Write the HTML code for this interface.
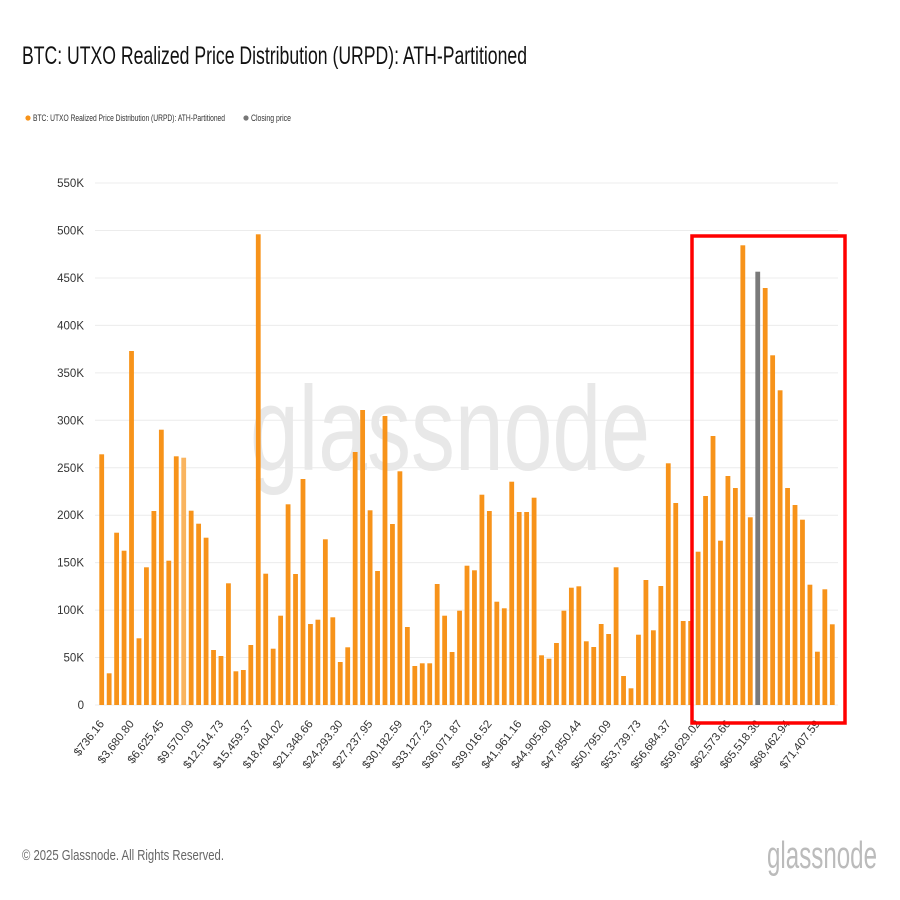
<!DOCTYPE html>
<html><head><meta charset="utf-8">
<style>html,body{margin:0;padding:0;background:#fff;}svg{display:block;font-family:"Liberation Sans",sans-serif;}</style>
</head><body>
<svg id="c" width="900" height="900" viewBox="0 0 900 900" xmlns="http://www.w3.org/2000/svg">
<rect width="900" height="900" fill="#fff"/>
<text x="22" y="64" font-size="25" fill="#111" textLength="505" lengthAdjust="spacingAndGlyphs">BTC: UTXO Realized Price Distribution (URPD): ATH-Partitioned</text>
<circle cx="28" cy="118" r="2.6" fill="#f7931a"/>
<text x="33" y="121" font-size="9" fill="#333" textLength="192" lengthAdjust="spacingAndGlyphs">BTC: UTXO Realized Price Distribution (URPD): ATH-Partitioned</text>
<circle cx="246" cy="118" r="2.6" fill="#777"/>
<text x="251" y="121" font-size="9" fill="#333" textLength="40" lengthAdjust="spacingAndGlyphs">Closing price</text>
<g id="grid"></g>
<text x="450" y="470" font-size="120" fill="#e8e8e8" text-anchor="middle" textLength="400" lengthAdjust="spacingAndGlyphs">glassnode</text>
<g id="bars"></g>
<g id="labels"></g>
<rect x="692" y="236" width="153" height="487" fill="none" stroke="#f00" stroke-width="3.5"/>
<text x="22" y="860" font-size="15" fill="#666" textLength="202" lengthAdjust="spacingAndGlyphs">© 2025 Glassnode. All Rights Reserved.</text>
<text x="767" y="868" font-size="38" fill="#bbb" textLength="110" lengthAdjust="spacingAndGlyphs">glassnode</text>
</svg>
<script>
var ns="http://www.w3.org/2000/svg";
function el(t,a,p,txt){var e=document.createElementNS(ns,t);for(var k in a)e.setAttribute(k,a[k]);if(txt!=null)e.textContent=txt;document.getElementById(p).appendChild(e);return e;}
var y0=705,step=47.45;
for(var i=0;i<=11;i++){var y=y0-i*step;
el("line",{x1:95,x2:838,y1:y,y2:y,stroke:"#ececec","stroke-width":1},"grid");
el("text",{x:84,y:y+4,"font-size":11.5,fill:"#333","text-anchor":"end"},"grid",i==0?"0":(i*50)+"K");}
var tops=[454.3,673.3,532.7,550.7,351,638.3,567.3,511,429.7,560.7,456.3,457.7,510.7,523.7,537.7,650,656,583.3,671.3,670,645,234.3,573.7,648.7,615.7,504.3,574,479,624,619.7,539.3,617.3,662,647.3,452,410,510.3,571,416,524,471.3,627,666,663.3,663.3,584,615.7,652,610.7,565.7,570.3,494.7,511,601.7,608.3,481.7,512,512,497.7,655.3,658.7,643,610.7,587.7,586.3,641.3,647,624,634,567.3,676,688.3,634.7,580,630.3,586,463.3,503,621,621,551.7,496,436,540.7,476,488,245.3,517.3,271.7,288,355.3,390.3,488,505,519.7,584.7,651.7,589.3,624.3];
for(var i=0;i<tops.length;i++){var cx=101.7+i*7.455;
var col=i==88?"#7a7a7a":(i==11?"#f9b45f":"#f7931a");
el("rect",{x:cx-2.4,y:tops[i],width:4.8,height:y0-tops[i],fill:col},"bars");}
var labs=["$736.16","$3,680.80","$6,625.45","$9,570.09","$12,514.73","$15,459.37","$18,404.02","$21,348.66","$24,293.30","$27,237.95","$30,182.59","$33,127.23","$36,071.87","$39,016.52","$41,961.16","$44,905.80","$47,850.44","$50,795.09","$53,739.73","$56,684.37","$59,629.02","$62,573.66","$65,518.30","$68,462.94","$71,407.59"];
for(var j=0;j<labs.length;j++){var x=101.7+j*4*7.455+3,y=724;
el("text",{x:x,y:y,"font-size":11.5,fill:"#333","text-anchor":"end",transform:"rotate(-52 "+x+" "+y+")"},"labels",labs[j]);}
</script>
</body></html>
